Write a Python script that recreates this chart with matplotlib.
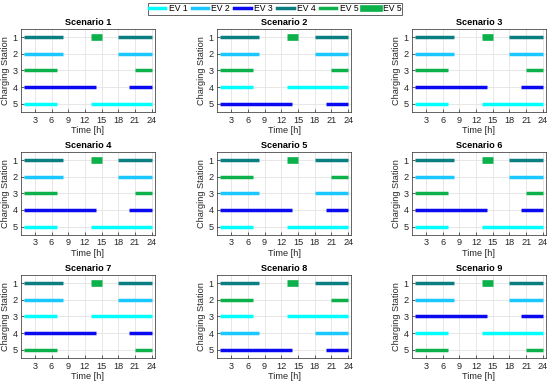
import numpy as np
import matplotlib
matplotlib.use("Agg")
import matplotlib.pyplot as plt
from matplotlib.lines import Line2D

plt.rcParams['font.family'] = ['Liberation Sans', 'DejaVu Sans']

# charging intervals of each EV [start, end] in hours
ev_names = ["EV 1", "EV 2", "EV 3", "EV 4", "EV 5"]
ev_colors = ["#00FFFF", "#1AC8FF", "#0A0AF0", "#0A7E80", "#0DB14B"]
ev_intervals = [
    [(1, 7), (13, 24)],
    [(1, 8), (18, 24)],
    [(1, 14), (20, 24)],
    [(1, 8), (18, 24)],
    [(1, 7), (21, 24)],
]
# extra EV 5 block (thick)
extra_station = 1
extra_interval = (13, 15)

# station assigned to EV 1..5 in each scenario
assign = [
    [5, 2, 4, 1, 3],
    [4, 2, 5, 1, 3],
    [5, 2, 4, 1, 3],
    [5, 2, 4, 1, 3],
    [5, 3, 4, 1, 2],
    [5, 2, 4, 1, 3],
    [3, 2, 4, 1, 5],
    [3, 4, 5, 1, 2],
    [4, 2, 3, 1, 5],
]

xticks = [3, 6, 9, 12, 15, 18, 21, 24]

fig = plt.figure(figsize=(5.5, 3.85), dpi=100)
lefts = [0.038, 0.395, 0.749]
bottoms = [0.709, 0.390, 0.070]
w, h = 0.243, 0.216
fs = 6.6

for k in range(9):
    r, c = divmod(k, 3)
    ax = fig.add_axes([lefts[c], bottoms[r], w, h])
    ax.grid(True, color="#e3e3e3", linewidth=0.6)
    ax.set_axisbelow(True)
    for i in range(5):
        st = assign[k][i]
        for (a, b) in ev_intervals[i]:
            ax.plot([a, b], [st, st], color=ev_colors[i], lw=2.5, solid_capstyle="butt")
    ax.plot(list(extra_interval), [extra_station] * 2, color=ev_colors[4], lw=4.8,
            solid_capstyle="butt")
    ax.set_xlim(0.5, 24.5)
    ax.set_ylim(5.5, 0.5)
    ax.set_xticks(xticks)
    ax.set_yticks([1, 2, 3, 4, 5])
    ax.tick_params(labelsize=fs, length=2, width=0.5, colors="#262626", direction="in", pad=2.5)
    for s in ax.spines.values():
        s.set_color("#262626")
        s.set_linewidth(0.5)
    ax.set_title(f"Scenario {k + 1}", fontsize=fs, fontweight="bold", pad=2.5)
    ax.set_xlabel("Time [h]", fontsize=fs, color="#262626", labelpad=1)
    ax.set_ylabel("Charging Station", fontsize=fs, color="#262626", labelpad=2)

handles = [Line2D([], [], color=ev_colors[i], lw=2.5) for i in range(5)]
handles.append(Line2D([], [], color=ev_colors[4], lw=4.8))
labels = ev_names + ["EV 5"]
leg = fig.legend(handles, labels, loc="upper center", bbox_to_anchor=(0.5, 1.003), ncol=6,
                 fontsize=6.2, frameon=True, fancybox=False, edgecolor="#262626",
                 handlelength=1.9, handletextpad=0.4, columnspacing=0.5,
                 borderpad=0.15, framealpha=1)
leg.get_frame().set_linewidth(0.5)

fig.savefig("out.png", dpi=100)
